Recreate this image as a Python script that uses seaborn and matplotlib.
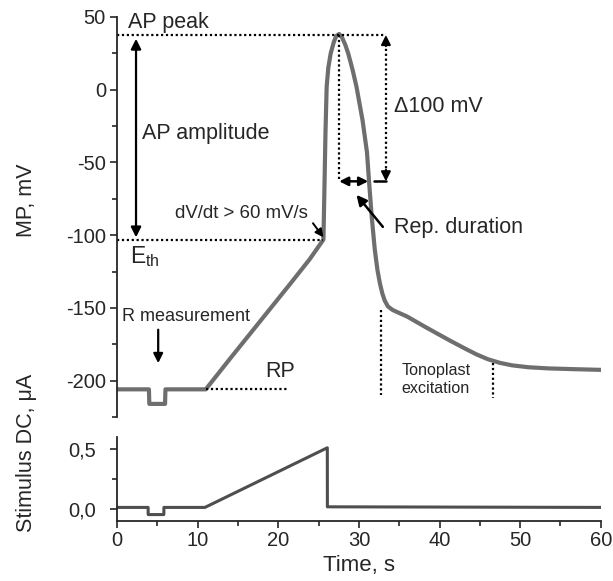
import numpy as np
import pandas as pd
import matplotlib
matplotlib.use("Agg")
import matplotlib.pyplot as plt
import seaborn as sns
from matplotlib.ticker import MultipleLocator, FixedLocator, FixedFormatter

# ---------------- data ----------------
mp_time = [0, 3.95, 4.0, 5.95, 6.0, 11.0, 14.0, 17.7, 21.4, 23.9, 25.6,
           25.75, 25.85, 26.0, 26.2, 26.5, 26.9, 27.2, 27.55, 27.9, 28.3, 28.67,
           29.2, 29.7, 30.45, 31.0, 31.27, 31.6, 31.97, 32.3, 32.6, 32.9, 33.2,
           33.6, 34.2, 35.0, 36.0, 37.1, 38.2, 39.5, 41.3, 43.0, 44.6, 46.0,
           47.5, 49.0, 51.0, 53.5, 56.5, 60.0]
mp_value = [-206, -206, -216, -216, -206, -206, -185, -159.5, -134, -116.5, -103,
            -60, -30, 2, 15, 25, 33, 37, 38.3, 36, 31, 25,
            14, 2, -21, -43, -64, -88, -110, -124, -133, -140, -145,
            -149, -151.5, -153.5, -156, -159.5, -163, -167, -172.5, -177.5, -182, -185.3,
            -187.8, -189.5, -190.8, -191.6, -192.1, -192.6]

stim_time = [0, 3.85, 3.86, 5.8, 5.81, 10.9, 26.08, 26.09, 60.0]
stim_value = [0.015, 0.015, -0.045, -0.045, 0.015, 0.015, 0.514, 0.02, 0.015]

mp_ticks = [-200, -150, -100, -50, 0, 50]
stim_ticks = [0.0, 0.5]
stim_tick_labels = ["0,0", "0,5"]
time_ticks = [0, 10, 20, 30, 40, 50, 60]

# ---------------- style ----------------
sns.set_style("ticks")
plt.rcParams['font.family'] = ['Liberation Sans', 'DejaVu Sans']
plt.rcParams['mathtext.fontset'] = 'custom'
plt.rcParams['mathtext.rm'] = 'Liberation Sans'
plt.rcParams['mathtext.it'] = 'Liberation Sans:italic'
plt.rcParams['axes.linewidth'] = 1.3
plt.rcParams['axes.unicode_minus'] = False

fig = plt.figure(figsize=(6.13, 5.81), dpi=100)
ax1 = fig.add_axes([0.191, 0.2823, 0.789, 0.6885])
ax2 = fig.add_axes([0.191, 0.103, 0.789, 0.144])

mp_df = pd.DataFrame({"t": mp_time, "mp": mp_value})
st_df = pd.DataFrame({"t": stim_time, "st": stim_value})

sns.lineplot(data=mp_df, x="t", y="mp", ax=ax1, estimator=None, sort=False,
             color="#6e6e6e", lw=3.0, solid_joinstyle='round')
sns.lineplot(data=st_df, x="t", y="st", ax=ax2, estimator=None, sort=False,
             color="#4e4e4e", lw=2.2)

# ---------------- axes ----------------
TICK_FS = 14.5
LABEL_FS = 15.5

ax1.set_xlim(0, 60)
ax1.set_ylim(-225, 50)
for s in ["top", "right", "bottom"]:
    ax1.spines[s].set_visible(False)
ax1.set_xticks([])
ax1.set_xlabel("")
ax1.yaxis.set_major_locator(FixedLocator(mp_ticks))
ax1.yaxis.set_minor_locator(MultipleLocator(25))
ax1.tick_params(axis='y', which='major', direction='out', length=5, width=1.2, labelsize=TICK_FS, pad=3)
ax1.tick_params(axis='y', which='minor', direction='out', length=3.5, width=1.2)
ax1.set_ylabel("MP, mV", fontsize=LABEL_FS)
ax1.yaxis.set_label_coords(-0.165, 0.5425)

ax2.set_xlim(0, 60)
ax2.set_ylim(-0.1, 0.6)
for s in ["top", "right"]:
    ax2.spines[s].set_visible(False)
ax2.xaxis.set_major_locator(FixedLocator(time_ticks))
ax2.xaxis.set_minor_locator(MultipleLocator(5))
ax2.yaxis.set_major_locator(FixedLocator(stim_ticks))
ax2.yaxis.set_major_formatter(FixedFormatter(stim_tick_labels))
ax2.yaxis.set_minor_locator(MultipleLocator(0.25))
ax2.tick_params(which='major', direction='out', length=5, width=1.2, labelsize=TICK_FS, pad=2)
ax2.tick_params(axis='y', which='major', pad=10)
ax2.tick_params(which='minor', direction='out', length=3.5, width=1.2)
ax2.set_xlabel("Time, s", fontsize=LABEL_FS + 0.5, labelpad=4)
ax2.set_ylabel("Stimulus DC, μA", fontsize=LABEL_FS)
ax2.yaxis.set_label_coords(-0.165, 0.815)

# ---------------- annotations ----------------
dot = dict(color="black", lw=1.6, ls=(0, (1, 1.2)))
ANN_FS = 15.5

# AP peak
ax1.plot([0, 33.4], [37.6, 37.6], **dot)
ax1.text(1.4, 46.5, "AP peak", fontsize=ANN_FS, va='center', ha='left')
ax1.plot([27.55, 27.55], [37.6, -62], **dot)

# delta 100 mV dotted double arrow
ax1.plot([33.35, 33.35], [35, -60], **dot)
ax1.annotate("", xy=(33.35, 37.6), xytext=(33.35, 30),
             arrowprops=dict(arrowstyle='-|>', color='black', lw=1.5, mutation_scale=14, shrinkA=0, shrinkB=0))
ax1.annotate("", xy=(33.35, -63), xytext=(33.35, -55),
             arrowprops=dict(arrowstyle='-|>', color='black', lw=1.5, mutation_scale=14, shrinkA=0, shrinkB=0))
ax1.plot([31.85, 33.35], [-63, -63], color='black', lw=1.8)
ax1.text(34.4, -11.6, "Δ100 mV", fontsize=ANN_FS, va='center', ha='left')

# repolarisation duration arrow
ax1.annotate("", xy=(27.55, -63), xytext=(31.15, -63),
             arrowprops=dict(arrowstyle='<|-|>', color='black', lw=1.8, mutation_scale=13, shrinkA=0, shrinkB=0))
ax1.annotate("", xy=(29.7, -72.3), xytext=(32.97, -94.3),
             arrowprops=dict(arrowstyle='-|>', color='black', lw=1.8, mutation_scale=15, shrinkA=0, shrinkB=0))
ax1.text(34.4, -95, "Rep. duration", fontsize=ANN_FS, va='center', ha='left')

# AP amplitude
ax1.annotate("", xy=(2.35, 35), xytext=(2.35, -101.5),
             arrowprops=dict(arrowstyle='<|-|>', color='black', lw=1.6, mutation_scale=15, shrinkA=0, shrinkB=0))
ax1.text(3.06, -30, "AP amplitude", fontsize=ANN_FS, va='center', ha='left')

# threshold
ax1.plot([0, 25.5], [-103.3, -103.3], **dot)
ax1.text(1.6, -119.5, r"E$_\mathregular{th}$", fontsize=ANN_FS + 1, va='baseline', ha='left')
ax1.text(7.2, -85, "dV/dt > 60 mV/s", fontsize=13.4, va='center', ha='left')
ax1.annotate("", xy=(25.6, -101.5), xytext=(24.3, -91.8),
             arrowprops=dict(arrowstyle='-|>', color='black', lw=1.4, mutation_scale=12, shrinkA=0, shrinkB=0))

# R measurement
ax1.text(8.6, -156, "R measurement", fontsize=13, va='center', ha='center')
ax1.annotate("", xy=(5.1, -188), xytext=(5.1, -165),
             arrowprops=dict(arrowstyle='-|>', color='black', lw=1.6, mutation_scale=14, shrinkA=0, shrinkB=0))

# RP
ax1.plot([11, 21.2], [-206, -206], **dot)
ax1.text(20.2, -193.6, "RP", fontsize=ANN_FS, va='center', ha='center')

# Tonoplast excitation
ax1.plot([32.8, 32.8], [-151.4, -209.8], **dot)
ax1.plot([46.6, 46.6], [-188, -212], **dot)
ax1.text(35.25, -199.5, "Tonoplast\nexcitation", fontsize=11.6, va='center', ha='left',
         linespacing=1.25)

fig.savefig("out.png", dpi=100)
